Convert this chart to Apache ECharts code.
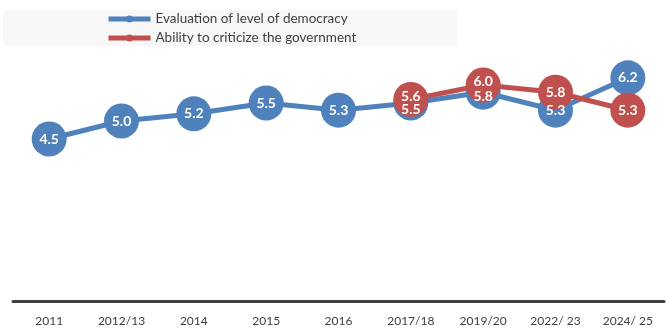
<!DOCTYPE html>
<html><head><meta charset="utf-8">
<script src="https://cdn.jsdelivr.net/npm/echarts@6/dist/echarts.min.js"></script>
<style>html,body{margin:0;padding:0;background:#fff}#c{width:668px;height:332px}</style>
</head><body><div id="c"></div>
<script>
const categories = ['2011','2012/13','2014','2015','2016','2017/18','2019/20','2022/ 23','2024/ 25'];
const democracy = [4.5, 5.0, 5.2, 5.5, 5.3, 5.5, 5.8, 5.3, 6.2];
const criticize = [null, null, null, null, null, 5.6, 6.0, 5.8, 5.3];
const blueLabelOffsets = [0,0,0,0,0,6,4,0,0];
const redLabelOffsets = [0,0,0,0,0,-3,-4,0,0];

const chart = echarts.init(document.getElementById('c'), null, {renderer:'canvas'});
const font = 'Lato, "Liberation Sans", sans-serif';
function mk(vals, offs){
  return vals.map((v,i)=> v==null ? null : {value:v, label:{offset:[0,offs[i]]}});
}
chart.setOption({
  animation:false,
  graphic:[{type:'rect', shape:{x:3,y:10,width:454,height:36}, style:{fill:'#f7f7f7'}, z:-10}],
  legend:{orient:'vertical', left:106, top:12, padding:0, itemGap:5, itemWidth:42, itemHeight:9,
    lineStyle:{width:5},
    textStyle:{fontFamily:font, fontSize:13.5, color:'#404040'},
    data:['Evaluation of level of democracy','Ability to criticize the government']},
  grid:{left:13, right:4, top:13, bottom:31},
  xAxis:{type:'category', data:categories, boundaryGap:true,
    axisLine:{lineStyle:{color:'#404040', width:3}}, axisTick:{show:false},
    axisLabel:{fontFamily:font, fontSize:12, color:'#404040', margin:14, interval:0}},
  yAxis:{type:'value', min:0, max:8, show:false, splitLine:{show:false}},
  series:[
    {name:'Evaluation of level of democracy', type:'line', data:mk(democracy, blueLabelOffsets),
     symbol:'circle', symbolSize:35, color:'#4f81bd',
     lineStyle:{width:5, color:'#4f81bd'}, itemStyle:{color:'#4f81bd'},
     label:{show:true, position:'inside', color:'#fff', fontWeight:'bold', fontSize:14, fontFamily:font,
       formatter:p=>p.value.toFixed(1)}},
    {name:'Ability to criticize the government', type:'line', data:mk(criticize, redLabelOffsets),
     symbol:'circle', symbolSize:35, color:'#c0504d',
     lineStyle:{width:5, color:'#c0504d'}, itemStyle:{color:'#c0504d'},
     label:{show:true, position:'inside', color:'#fff', fontWeight:'bold', fontSize:14, fontFamily:font,
       formatter:p=>p.value.toFixed(1)}}
  ]
});
</script></body></html>
